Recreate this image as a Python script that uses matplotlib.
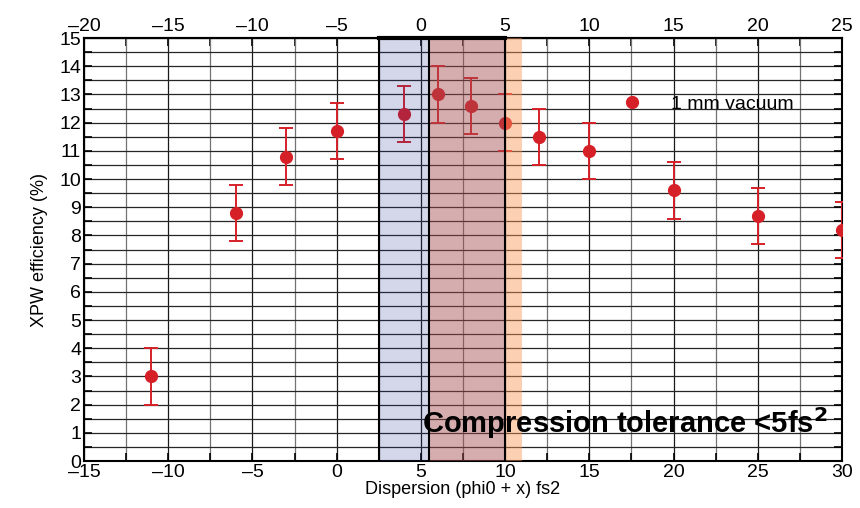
import matplotlib.pyplot as plt
from matplotlib.lines import Line2D
from matplotlib.ticker import MultipleLocator
import numpy as np

plt.rcParams['font.family'] = ['Liberation Sans', 'DejaVu Sans']

# data
dispersion = [-11, -6, -3, 0, 4, 6, 8, 10, 12, 15, 20, 25, 30]
efficiency = [3.0, 8.8, 10.8, 11.7, 12.3, 13.0, 12.6, 12.0, 11.5, 11.0, 9.6, 8.7, 8.2]
err = [1.0] * len(dispersion)

# shaded regions (bottom axis units)
blue_band = (2.5, 5.5)
red_band = (5.5, 10)
orange_band = (10, 11)

red = '#d62028'

fig = plt.figure(figsize=(8.6, 5.08), dpi=100)
ax = fig.add_axes([0.0977, 0.0925, 0.8814, 0.8325])

ax.set_xlim(-15, 30)
ax.set_ylim(0, 15)
ax.xaxis.set_major_locator(MultipleLocator(5))
ax.xaxis.set_minor_locator(MultipleLocator(2.5))
ax.yaxis.set_major_locator(MultipleLocator(1))
ax.yaxis.set_minor_locator(MultipleLocator(0.5))

ax.grid(which='both', axis='y', color='0.15', lw=0.9, zorder=1)
ax.grid(which='major', axis='x', color='0.1', lw=0.9, zorder=1)
ax.grid(which='minor', axis='x', color='0.45', lw=0.9, zorder=1)
ax.set_axisbelow(True)

ax.errorbar(dispersion, efficiency, yerr=err, fmt='o', color=red, ms=8.5,
            elinewidth=1.4, capsize=5, capthick=1.4, zorder=3)

ax.axvspan(*blue_band, color=(40/255, 50/255, 145/255), alpha=0.2, lw=0, zorder=4)
ax.axvspan(*red_band, color=(162/255, 75/255, 79/255), alpha=0.45, lw=0, zorder=4)
ax.axvspan(*orange_band, color=(250/255, 151/255, 88/255), alpha=0.45, lw=0, zorder=4)
for xv in [blue_band[0], blue_band[1], red_band[1]]:
    ax.axvline(xv, color='black', lw=1.5, zorder=5)
ax.plot([blue_band[0], red_band[1]], [15, 15], color='black', lw=3, zorder=5, clip_on=False)

for s in ax.spines.values():
    s.set_linewidth(1.5)

ax.tick_params(which='both', direction='in', top=False, right=True, labelsize=14, pad=2)
ax.tick_params(which='major', length=6, width=1.2)
ax.tick_params(which='minor', length=6, width=1.2)

top = ax.secondary_xaxis('top', functions=(lambda x: x - 5, lambda x: x + 5))
top.xaxis.set_major_locator(MultipleLocator(5))
top.xaxis.set_minor_locator(MultipleLocator(2.5))
top.tick_params(which='both', direction='in', labelsize=14, length=6, width=1.2, pad=2)
top.spines['top'].set_linewidth(1.5)

ax.set_xlabel('Dispersion (phi0 + x) fs2', fontsize=13, labelpad=0)
ax.set_ylabel('XPW efficiency (%)', fontsize=13, labelpad=8)

ax.xaxis.set_major_formatter(plt.FuncFormatter(lambda v, p: f'{v:g}'.replace('-', '\u2013')))
top.xaxis.set_major_formatter(plt.FuncFormatter(lambda v, p: f'{v:g}'.replace('-', '\u2013')))

ax.legend(handles=[Line2D([], [], marker='o', ls='', color=red, ms=8.5)],
          labels=['1 mm vacuum'], loc='center left', bbox_to_anchor=(0.684, 0.844),
          frameon=False, fontsize=14, handletextpad=1.0, borderpad=0)

ax.text(5.05, 1.35, 'Compression tolerance <5fs$^{\\mathbf{2}}$', fontsize=21, fontweight='bold',
        va='center', ha='left', zorder=6)

fig.savefig('out.png', dpi=100)
